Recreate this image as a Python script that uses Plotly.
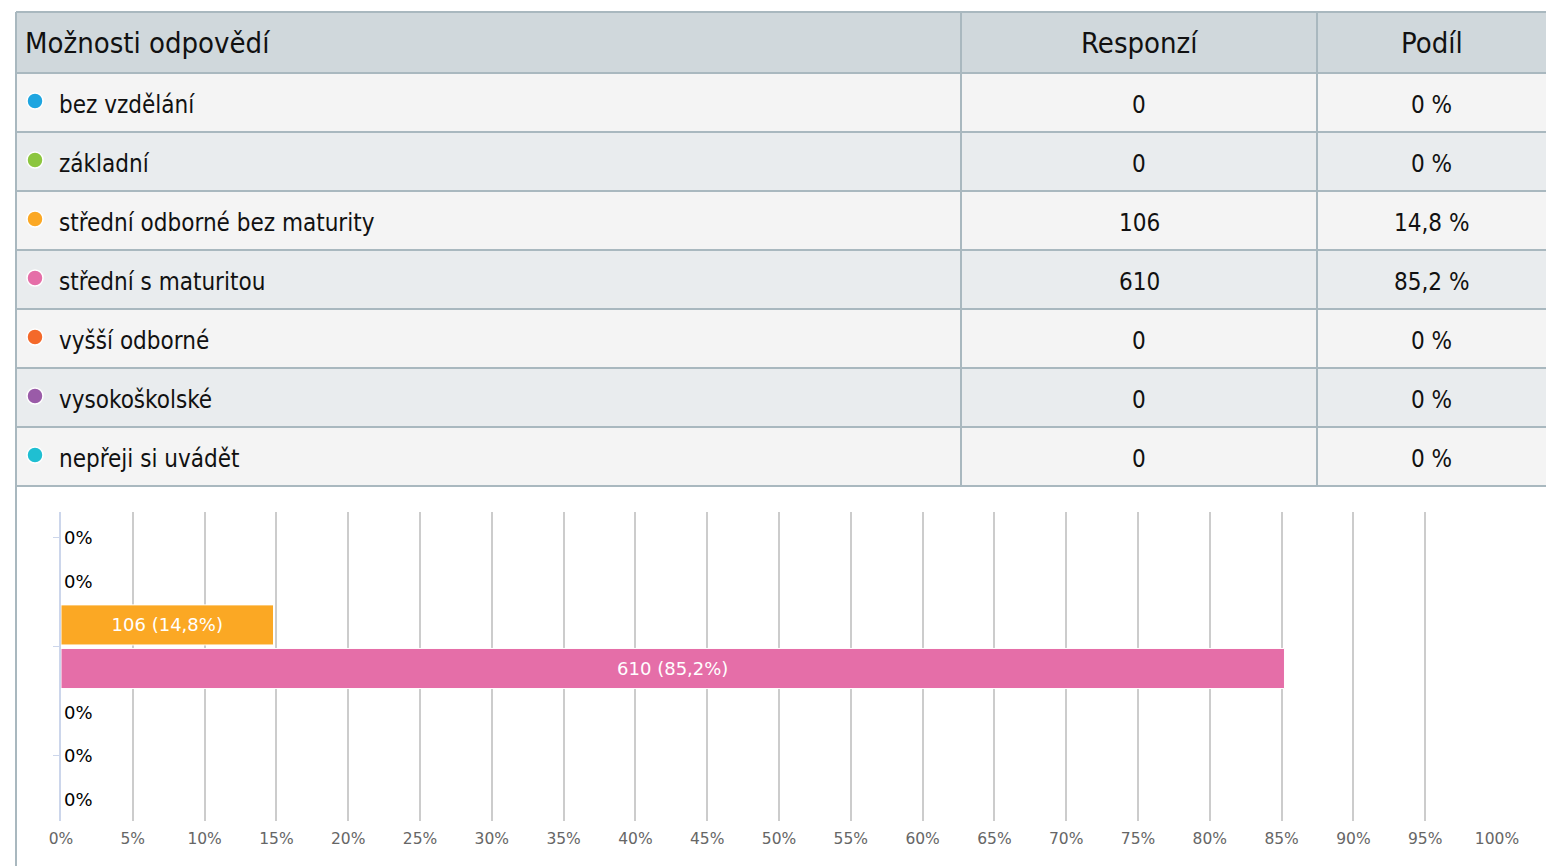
import plotly.graph_objects as go

# ---------------- data ----------------
categories = ["bez vzdělání", "základní", "střední odborné bez maturity",
              "střední s maturitou", "vyšší odborné", "vysokoškolské",
              "nepřeji si uvádět"]
responses = [0, 0, 106, 610, 0, 0, 0]
shares = [0, 0, 14.8, 85.2, 0, 0, 0]
colors = ["#1ea5e0", "#8cc63f", "#fba824", "#e56ea8", "#f4692a", "#9a5ba8", "#1fbfd2"]
headers = ["Možnosti odpovědí", "Responzí", "Podíl"]
x_ticks = list(range(0, 101, 5))

W, H = 1546, 866
# the photographed page is slightly narrower than the CSS viewport;
# map target picture x positions to page coordinates
SX, OX = 0.978, 12.0
def px(x):
    return ((x - OX) / SX) / W
def py(y):
    return 1 - y / H

TABLE_FONT = "DejaVu Sans Condensed"
CHART_FONT = "DejaVu Sans, Verdana, sans-serif"

def fmt_share(v):
    s = ("%.1f" % v).rstrip("0").rstrip(".")
    return s.replace(".", ",")

fig = go.Figure()

# ---------------- bar chart ----------------
ypos = list(range(len(categories)))
bar_text = []
text_pos = []
for r, s in zip(responses, shares):
    if r > 0:
        bar_text.append("%d (%s%%)" % (r, fmt_share(s)))
        text_pos.append("inside")
    else:
        bar_text.append("0%")
        text_pos.append("outside")

fig.add_trace(go.Bar(
    x=shares, y=ypos, orientation="h",
    marker=dict(color=colors, line=dict(color="white", width=1)),
    text=bar_text, textposition=text_pos,
    insidetextanchor="middle",
    insidetextfont=dict(color="white", size=18, family=CHART_FONT),
    outsidetextfont=dict(color="#000000", size=18, family=CHART_FONT),
    cliponaxis=False,
    hoverinfo="skip",
    showlegend=False,
))

# ---------------- table ----------------
shapes = []
annotations = []
col_x = [16, 961, 1317, 1546]
header_top, header_bot = 12, 73
row_h = 59
border = "#a9b8bf"
RIGHT = 1560

shapes.append(dict(type="rect", xref="paper", yref="paper",
                   x0=px(16), x1=px(RIGHT), y0=py(header_bot), y1=py(header_top),
                   fillcolor="#d0d8dc", line=dict(width=0), layer="below"))
for i in range(len(categories)):
    top = header_bot + i * row_h
    shapes.append(dict(type="rect", xref="paper", yref="paper",
                       x0=px(16), x1=px(RIGHT), y0=py(top + row_h), y1=py(top),
                       fillcolor="#f4f4f4" if i % 2 == 0 else "#e9ecee",
                       line=dict(width=0), layer="below"))
for i in range(len(categories) + 2):
    yy = header_top if i == 0 else header_bot + (i - 1) * row_h
    shapes.append(dict(type="line", xref="paper", yref="paper",
                       x0=px(16), x1=px(RIGHT), y0=py(yy), y1=py(yy),
                       line=dict(color=border, width=2), layer="below"))
table_bottom = header_bot + len(categories) * row_h
for cx in col_x[1:3]:
    shapes.append(dict(type="line", xref="paper", yref="paper",
                       x0=px(cx), x1=px(cx), y0=py(table_bottom), y1=py(header_top),
                       line=dict(color=border, width=2), layer="below"))
shapes.append(dict(type="line", xref="paper", yref="paper",
                   x0=px(16), x1=px(16), y0=0, y1=py(header_top),
                   line=dict(color=border, width=2), layer="below"))

hy = py((header_top + header_bot) / 2)
HDR = dict(family=TABLE_FONT, size=29, color="#111")
annotations.append(dict(xref="paper", yref="paper", x=px(23), y=hy,
                        xanchor="left", yanchor="middle", showarrow=False,
                        text=headers[0], font=HDR))
annotations.append(dict(xref="paper", yref="paper", x=px((961 + 1317) / 2), y=hy,
                        xanchor="center", yanchor="middle", showarrow=False,
                        text=headers[1], font=HDR))
annotations.append(dict(xref="paper", yref="paper", x=px((1317 + 1546) / 2), y=hy,
                        xanchor="center", yanchor="middle", showarrow=False,
                        text=headers[2], font=HDR))

CELL = dict(family=TABLE_FONT, size=24, color="#111")
for i, (cat, r, s, c) in enumerate(zip(categories, responses, shares, colors)):
    cy = header_bot + i * row_h + row_h / 2
    ty = cy + 2.5
    rad = 8
    dcy = cy - 1.5
    shapes.append(dict(type="circle", xref="paper", yref="paper",
                       x0=px(35 - rad), x1=px(35 + rad), y0=py(dcy + rad), y1=py(dcy - rad),
                       fillcolor=c, line=dict(color="white", width=1.5)))
    annotations.append(dict(xref="paper", yref="paper", x=px(57), y=py(ty),
                            xanchor="left", yanchor="middle", showarrow=False,
                            text=cat, font=CELL))
    annotations.append(dict(xref="paper", yref="paper", x=px((961 + 1317) / 2), y=py(ty),
                            xanchor="center", yanchor="middle", showarrow=False,
                            text=str(r), font=CELL))
    annotations.append(dict(xref="paper", yref="paper", x=px((1317 + 1546) / 2), y=py(ty),
                            xanchor="center", yanchor="middle", showarrow=False,
                            text=fmt_share(s) + " %", font=CELL))

band = 43.5
fig.update_layout(
    width=W, height=H,
    margin=dict(l=0, r=0, t=0, b=0),
    paper_bgcolor="white", plot_bgcolor="white",
    bargap=0.08,
    shapes=shapes, annotations=annotations,
    xaxis=dict(domain=[px(61), min(1.0, px(1497))], range=[0, 100],
               tickvals=x_ticks, ticktext=["%d%%" % t for t in x_ticks],
               showgrid=True, gridcolor="#cccccc", gridwidth=2,
               zeroline=False, showline=False, ticks="",
               ticklabelstandoff=6,
               tickfont=dict(family=CHART_FONT, size=15.5, color="#666666"),
               fixedrange=True),
    yaxis=dict(domain=[py(821), py(512)], range=[6.5, -0.5 - 4 / band],
               tickvals=[0, 2.5, 5], ticktext=["", "", ""],
               ticks="outside", ticklen=6, tickcolor="#ccd6eb",
               showgrid=False, zeroline=False,
               showline=True, linecolor="#ccd6eb", linewidth=2,
               fixedrange=True),
)

fig.write_html(
    "out.html",
    config={"displayModeBar": False},
    post_script="document.body.style.margin='0';document.body.style.overflow='hidden';",
)
